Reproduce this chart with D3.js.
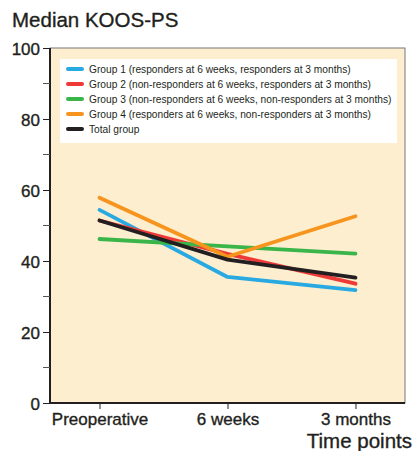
<!DOCTYPE html>
<html>
<head>
<meta charset="utf-8">
<script src="https://cdn.jsdelivr.net/npm/d3@7"></script>
<style>
  body { margin: 0; background: #fff; }
  svg { font-family: "Liberation Sans", Arial, sans-serif; }
  .heavy { stroke: #231f20; stroke-width: 0.35px; }
</style>
</head>
<body>
<svg id="chart" width="415" height="451"></svg>
<script>
// --- data ---
const timePoints = ["Preoperative", "6 weeks", "3 months"];
const groupNames = [
  "Group 1 (responders at 6 weeks, responders at 3 months)",
  "Group 2 (non-responders at 6 weeks, responders at 3 months)",
  "Group 3 (non-responders at 6 weeks, non-responders at 3 months)",
  "Group 4 (responders at 6 weeks, non-responders at 3 months)",
  "Total group"
];
const group1 = [54.4, 35.5, 31.8];
const group2 = [51.4, 42.0, 33.6];
const group3 = [46.2, 44.1, 42.1];
const group4 = [57.8, 41.2, 52.6];
const total = [51.4, 40.4, 35.3];
const colors = ["#29a9e1", "#ee3a36", "#3ab54a", "#f7941d", "#231f20"];
const yTicks = [0, 20, 40, 60, 80, 100];
const yMinor = [10, 30, 50, 70, 90];

const series = [group1, group2, group3, group4, total];

const svg = d3.select("#chart");
const mLeft = 50, mRight = 405, mTop = 48, mBottom = 403;

const x = d3.scalePoint().domain(timePoints).range([mLeft, mRight]).padding(0.387);
const y = d3.scaleLinear().domain([0, 100]).range([mBottom, mTop]);

// plot background
svg.append("rect")
  .attr("x", mLeft).attr("y", mTop)
  .attr("width", mRight - mLeft).attr("height", mBottom - mTop)
  .attr("fill", "#fdeecf")
  .attr("stroke", "#777").attr("stroke-width", 1);

// Title
svg.append("text")
  .attr("class", "heavy")
  .attr("x", 12).attr("y", 27)
  .style("font-size", "20.5px")
  .attr("fill", "#231f20")
  .text("Median KOOS-PS");

// Y axis
const yAxis = svg.append("g")
  .attr("transform", `translate(${mLeft},0)`)
  .call(d3.axisLeft(y).tickValues(yTicks).tickSize(7).tickPadding(3));
yAxis.select(".domain").attr("stroke", "#231f20").attr("stroke-width", 2).attr("d", `M0,${mTop}V${mBottom}`);
yAxis.selectAll(".tick line").attr("stroke", "#231f20");
yAxis.selectAll(".tick text")
  .attr("class", "heavy")
  .attr("dy", "0.36em")
  .style("font-size", "17px").attr("fill", "#231f20");
yAxis.selectAll(".minor")
  .data(yMinor).enter().append("line")
  .attr("x1", -7).attr("x2", 0)
  .attr("y1", d => y(d)).attr("y2", d => y(d))
  .attr("stroke", "#555");

// X axis
const xAxis = svg.append("g")
  .attr("transform", `translate(0,${mBottom})`)
  .call(d3.axisBottom(x).tickSize(6).tickPadding(4));
xAxis.select(".domain").attr("stroke", "#231f20").attr("stroke-width", 2).attr("d", `M${mLeft},0H${mRight}`);
xAxis.selectAll(".tick line").attr("stroke", "#231f20");
xAxis.selectAll(".tick text")
  .attr("class", "heavy")
  .style("font-size", "17px").attr("fill", "#231f20");

svg.append("text")
  .attr("class", "heavy")
  .attr("x", 412).attr("y", 448)
  .attr("text-anchor", "end")
  .style("font-size", "20.5px")
  .attr("fill", "#231f20")
  .text("Time points");

// Lines
const line = d3.line().x((d, i) => x(timePoints[i])).y(d => y(d));
svg.selectAll("path.series")
  .data(series)
  .enter().append("path")
  .attr("class", "series")
  .attr("d", line)
  .attr("fill", "none")
  .attr("stroke", (d, i) => colors[i])
  .attr("stroke-width", 3.8)
  .attr("stroke-linecap", "round")
  .attr("stroke-linejoin", "round");

// Legend
const lg = svg.append("g");
lg.append("rect")
  .attr("x", 60).attr("y", 59).attr("width", 337).attr("height", 84)
  .attr("fill", "#fff");
groupNames.forEach((name, i) => {
  const yy = 69 + i * 15;
  lg.append("line")
    .attr("x1", 68).attr("x2", 82)
    .attr("y1", yy).attr("y2", yy)
    .attr("stroke", colors[i]).attr("stroke-width", 4)
    .attr("stroke-linecap", "round");
  lg.append("text")
    .attr("x", 89).attr("y", yy + 3.7)
    .style("font-size", "10.2px")
    .attr("fill", "#231f20")
    .text(name);
});
</script>
</body>
</html>
